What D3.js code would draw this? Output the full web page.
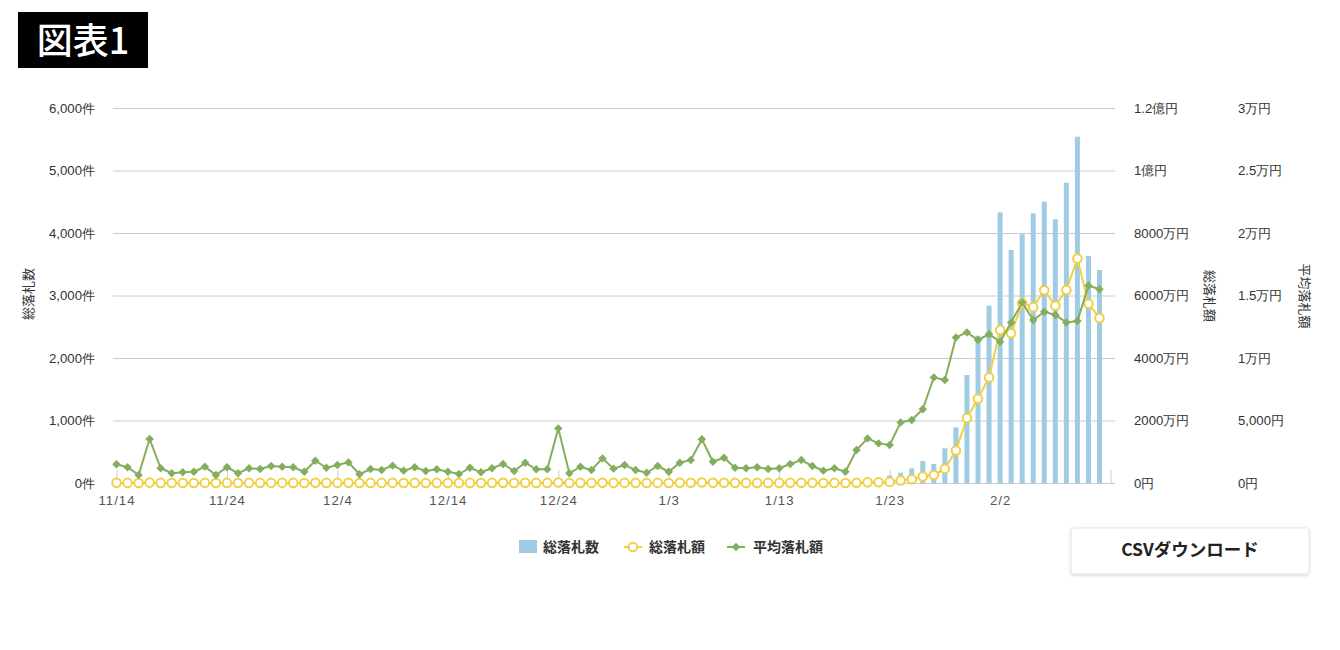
<!DOCTYPE html>
<html lang="ja">
<head>
<meta charset="utf-8">
<script src="https://cdn.jsdelivr.net/npm/d3@7"></script>
<style>
  body { margin: 0; background: #fff; font-family: "Noto Sans CJK JP", "Noto Sans", sans-serif; }
  svg text { fill: #333; }
</style>
</head>
<body>
<div id="chart"></div>
<script>
////////////////////////////////////////////////////////////////
// Data (one entry per day, 11/14 .. 2/11)

// 総落札数 (件)
const counts = [
  30, 25, 20, 35, 25, 20, 20, 25, 30, 20,
  25, 20, 25, 25, 30, 30, 25, 20, 35, 25,
  30, 30, 20, 25, 25, 30, 20, 25, 20, 25,
  20, 20, 25, 20, 25, 30, 20, 30, 25, 25,
  40, 20, 25, 25, 30, 25, 30, 25, 20, 30,
  20, 30, 30, 40, 30, 35, 25, 25, 25, 25,
  25, 30, 35, 30, 25, 25, 25, 40, 60, 80,
  120, 165, 235, 352, 304, 555, 891, 1728, 2357, 2837,
  4331, 3728, 3979, 4315, 4501, 4219, 4805, 5541, 3632, 3408
];

// 総落札額 (万円)
const totals = [
  5, 3, 1, 12, 3, 2, 2, 2, 4, 1,
  3, 2, 3, 3, 4, 4, 3, 2, 6, 3,
  4, 5, 1, 3, 3, 4, 2, 3, 2, 3,
  2, 1, 3, 2, 3, 5, 2, 5, 3, 3,
  17, 2, 3, 3, 6, 3, 4, 3, 2, 4,
  2, 5, 6, 14, 5, 7, 3, 3, 3, 3,
  3, 5, 6, 4, 2, 3, 2, 10, 21, 25,
  36, 80, 118, 208, 257, 457, 1038, 2082, 2696, 3376,
  4894, 4790, 5750, 5627, 6166, 5670, 6174, 7181, 5735, 5282
];

// 平均落札額 (円)
const averages = [
  1500, 1260, 640, 3520, 1180, 780, 860, 900, 1300, 640,
  1260, 780, 1180, 1120, 1360, 1300, 1260, 900, 1780, 1220,
  1440, 1650, 700, 1120, 1040, 1390, 990, 1260, 960, 1100,
  900, 720, 1220, 860, 1180, 1520, 960, 1620, 1100, 1100,
  4370, 780, 1300, 1040, 1970, 1150, 1440, 1040, 820, 1360,
  900, 1620, 1840, 3500, 1700, 2020, 1220, 1180, 1260, 1120,
  1180, 1520, 1840, 1360, 990, 1180, 900, 2640, 3570, 3170,
  3040, 4850, 5040, 5900, 8450, 8240, 11650, 12050, 11440, 11900,
  11300, 12850, 14450, 13040, 13700, 13440, 12850, 12960, 15790, 15500
];

// x axis: a tick every 10 days, the last one (2/12) without label
const xTickDays = [0, 10, 20, 30, 40, 50, 60, 70, 80, 90];
const xTickLabels = ["11/14", "11/24", "12/4", "12/14", "12/24", "1/3", "1/13", "1/23", "2/2", ""];

const countTicks = [0, 1000, 2000, 3000, 4000, 5000, 6000];
const totalTicks = [0, 2000, 4000, 6000, 8000, 10000, 12000];
const totalTickLabels = ["0円", "2000万円", "4000万円", "6000万円", "8000万円", "1億円", "1.2億円"];
const avgTicks = [0, 5000, 10000, 15000, 20000, 25000, 30000];
const avgTickLabels = ["0円", "5,000円", "1万円", "1.5万円", "2万円", "2.5万円", "3万円"];

const legendItems = ["総落札数", "総落札額", "平均落札額"];

////////////////////////////////////////////////////////////////
// Layout

const width = 1340;
const height = 650;
const plot = { left: 113, right: 1115, top: 108, bottom: 483 };
const barColor = "#9fcbe3";
const yellow = "#f0d044";
const green = "#84ad5d";
const tickFont = "13.2px";

const x = d3.scaleLinear([0, 89], [116.5, 1099.5]);
const yCount = d3.scaleLinear([0, 6000], [plot.bottom, plot.top]);
const yTotal = d3.scaleLinear([0, 12000], [plot.bottom, plot.top]);
const yAvg = d3.scaleLinear([0, 30000], [plot.bottom, plot.top]);

const svg = d3.select("#chart")
  .append("svg")
  .attr("width", width)
  .attr("height", height)
  .attr("viewBox", [0, 0, width, height]);

// title badge
svg.append("rect")
  .attr("x", 18).attr("y", 12)
  .attr("width", 130).attr("height", 56)
  .attr("fill", "#000");
svg.append("text")
  .attr("x", 83).attr("y", 54)
  .attr("text-anchor", "middle")
  .style("font-size", "36px")
  .style("font-weight", 500)
  .style("fill", "#fff")
  .text("図表1");

// gridlines
svg.append("g")
  .selectAll("line")
  .data(countTicks)
  .join("line")
  .attr("x1", plot.left).attr("x2", plot.right)
  .attr("y1", d => yCount(d) + 0.5).attr("y2", d => yCount(d) + 0.5)
  .attr("stroke", "#cccccc")
  .attr("stroke-width", 1);

// axes
const styleAxis = (g) => {
  g.select(".domain").remove();
  g.selectAll("text").style("font-size", tickFont).style("fill", "#333");
};

svg.append("g")
  .attr("transform", `translate(${plot.left},0)`)
  .call(d3.axisLeft(yCount).tickValues(countTicks)
    .tickFormat(d => d3.format(",")(d) + "件").tickSize(0).tickPadding(18))
  .call(styleAxis);

svg.append("g")
  .attr("transform", `translate(${plot.right},0)`)
  .call(d3.axisRight(yTotal).tickValues(totalTicks)
    .tickFormat((d, i) => totalTickLabels[i]).tickSize(0).tickPadding(19))
  .call(styleAxis);

svg.append("g")
  .attr("transform", `translate(${plot.right + 104},0)`)
  .call(d3.axisRight(yAvg).tickValues(avgTicks)
    .tickFormat((d, i) => avgTickLabels[i]).tickSize(0).tickPadding(19))
  .call(styleAxis);

svg.append("g")
  .attr("transform", `translate(0,${plot.bottom})`)
  .call(d3.axisBottom(x).tickValues(xTickDays)
    .tickFormat((d, i) => xTickLabels[i]).tickSizeInner(-13).tickSizeOuter(0).tickPadding(13))
  .call(g => g.select(".domain").remove())
  .call(g => g.selectAll(".tick line").attr("stroke", "#cccccc"))
  .call(g => g.selectAll("text").style("font-size", tickFont).style("fill", "#555").style("letter-spacing", "1px"));

// axis titles
const axisTitle = (tx, ty, angle, label) => svg.append("text")
  .attr("transform", `translate(${tx},${ty}) rotate(${angle})`)
  .attr("text-anchor", "middle")
  .attr("dy", "0.35em")
  .style("font-size", "13px")
  .style("fill", "#333")
  .text(label);
axisTitle(28, 294, -90, "総落札数");
axisTitle(1210, 296, 90, "総落札額");
axisTitle(1305, 296, 90, "平均落札額");

// bars
const barW = 5;
svg.append("g")
  .selectAll("rect")
  .data(counts)
  .join("rect")
  .attr("x", (d, i) => x(i) - barW / 2)
  .attr("y", d => yCount(d))
  .attr("width", barW)
  .attr("height", d => plot.bottom - yCount(d))
  .attr("fill", barColor);

// 総落札額 line + circles
svg.append("path")
  .datum(totals)
  .attr("fill", "none")
  .attr("stroke", yellow)
  .attr("stroke-width", 2)
  .attr("d", d3.line((d, i) => x(i), d => yTotal(d)));
svg.append("g")
  .selectAll("circle")
  .data(totals)
  .join("circle")
  .attr("cx", (d, i) => x(i))
  .attr("cy", d => yTotal(d))
  .attr("r", 4.3)
  .attr("fill", "#fff")
  .attr("stroke", yellow)
  .attr("stroke-width", 2);

// 平均落札額 line + diamonds
svg.append("path")
  .datum(averages)
  .attr("fill", "none")
  .attr("stroke", green)
  .attr("stroke-width", 2)
  .attr("d", d3.line((d, i) => x(i), d => yAvg(d)));
const diamond = d3.symbol(d3.symbolSquare, 36);
svg.append("g")
  .selectAll("path")
  .data(averages)
  .join("path")
  .attr("transform", (d, i) => `translate(${x(i)},${yAvg(d)}) rotate(45)`)
  .attr("d", diamond)
  .attr("fill", green);

// legend
const legend = svg.append("g")
  .style("font-size", "14px")
  .style("font-weight", "bold");
legend.append("rect")
  .attr("x", 519).attr("y", 540)
  .attr("width", 18).attr("height", 13)
  .attr("fill", barColor);
legend.append("text").attr("x", 543).attr("y", 547).attr("dy", "0.35em").text(legendItems[0]);

legend.append("line")
  .attr("x1", 624).attr("x2", 642).attr("y1", 547).attr("y2", 547)
  .attr("stroke", yellow).attr("stroke-width", 2);
legend.append("circle")
  .attr("cx", 633).attr("cy", 547).attr("r", 4.3)
  .attr("fill", "#fff").attr("stroke", yellow).attr("stroke-width", 2);
legend.append("text").attr("x", 649).attr("y", 547).attr("dy", "0.35em").text(legendItems[1]);

legend.append("line")
  .attr("x1", 727).attr("x2", 745).attr("y1", 547).attr("y2", 547)
  .attr("stroke", green).attr("stroke-width", 2);
legend.append("path")
  .attr("transform", "translate(736,547) rotate(45)")
  .attr("d", diamond).attr("fill", green);
legend.append("text").attr("x", 753).attr("y", 547).attr("dy", "0.35em").text(legendItems[2]);

// CSV button
const defs = svg.append("defs");
const shadow = defs.append("filter").attr("id", "shadow")
  .attr("x", "-10%").attr("y", "-20%").attr("width", "120%").attr("height", "150%");
shadow.append("feDropShadow")
  .attr("dx", 0).attr("dy", 1).attr("stdDeviation", 1.5)
  .attr("flood-color", "#000").attr("flood-opacity", 0.18);
svg.append("rect")
  .attr("x", 1071).attr("y", 528)
  .attr("width", 238).attr("height", 46)
  .attr("rx", 3)
  .attr("fill", "#fff")
  .attr("stroke", "#e6e6e6")
  .attr("filter", "url(#shadow)");
svg.append("text")
  .attr("x", 1190).attr("y", 550)
  .attr("dy", "0.35em")
  .attr("text-anchor", "middle")
  .style("font-size", "17.5px")
  .style("font-weight", "bold")
  .style("fill", "#222")
  .text("CSVダウンロード");
</script>
</body>
</html>
